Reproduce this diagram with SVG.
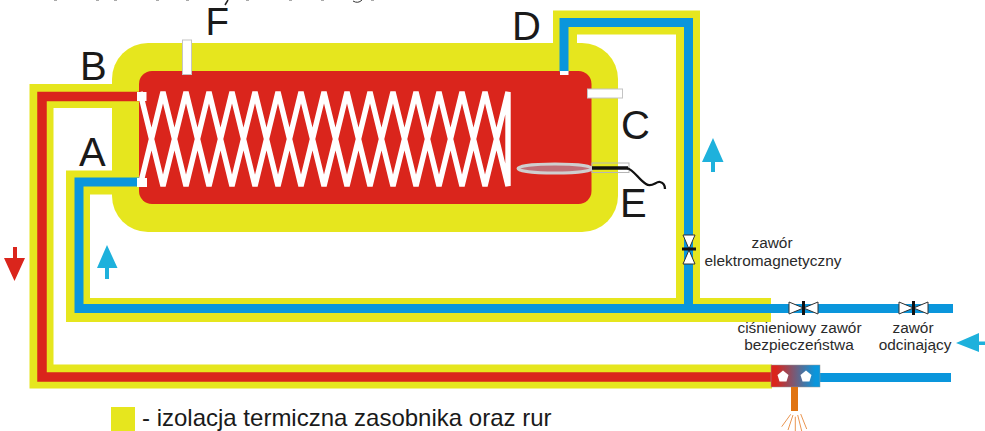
<svg xmlns="http://www.w3.org/2000/svg" width="985" height="431" viewBox="0 0 985 431">
<style>
.big{font:40px "Liberation Sans",Arial,sans-serif;fill:#1a1a1a}
.sm{font:15.400px "Liberation Sans",Arial,sans-serif;fill:#2a2a2a;text-anchor:middle}
.ins{fill:none;stroke:#e6e61e;stroke-width:24;stroke-linejoin:miter}
.cold{fill:none;stroke:#0a96dc;stroke-width:9;stroke-linejoin:miter}
.hot{fill:none;stroke:#da251c;stroke-width:9.500;stroke-linejoin:miter}
.coil{fill:none;stroke:#fff;stroke-width:5.400;stroke-linejoin:bevel}
.fit{fill:#fff;stroke:#c4c4c4;stroke-width:1}
.vlv{fill:#fff;stroke:#333;stroke-width:1}
.bar{fill:#111}
.ray{stroke:#ea9550;stroke-width:1;fill:none}
.arr{fill:#1eb1dc}
</style>
<defs>
<linearGradient id="mix" x1="0" x2="1" y1="0" y2="0"><stop offset="0.1" stop-color="#da251c"/><stop offset="0.9" stop-color="#0a96dc"/></linearGradient>
</defs>
<g id="cut-off-title" fill="#aaa"><path d="M54 0h3v1h-3zM96 0h3v1h-3zM114 0h3v1h-3zM156 0h3v1h-3zM186 0h3v1h-3zM246 0h3v1h-3zM289 0h3v1h-3zM321 0h3v1h-3zM371 0h3v1h-3z"/><path d="M353 1q5 3 9-1" fill="none" stroke="#333" stroke-width="1"/><path d="M225 5l3-5" fill="none" stroke="#222" stroke-width="1.500"/></g>
<g id="connectors">
<path class="ins" d="M141 96H41.500V376.500H772"/>
<path class="ins" d="M141 182.500H78V310H771"/>
<path class="ins" d="M565 50V22.500H688V310"/>
</g>
<g id="tank">
<rect x="112" y="43" width="506" height="189" rx="36" fill="#e6e61e"/>
<rect x="139" y="71" width="452.500" height="133" rx="13" fill="#da251c"/>
</g>
<g id="pipes">
<path class="hot" d="M139 96.500H42V377H772"/>
<path class="cold" d="M139 182H79V308.500H953"/>
<path class="cold" d="M564 72V22.500H688.500V308"/>
<path class="cold" d="M820 377.500H951"/>
</g>
<g id="coil">
<path class="coil" d="M140 92L163 186L186 92L209 186L232 92L255 186L278 92L301 186L324 92L347 186L370 92L393 186L416 92L439 186L462 92L485 186L508 92V186L485 92L462 186L439 92L416 186L393 92L370 186L347 92L324 186L301 92L278 186L255 92L232 186L209 92L186 186L163 92L140 186"/>
<rect x="137" y="92" width="9.500" height="9" fill="#fff"/>
<rect x="137" y="178" width="10" height="9" fill="#fff"/>
<rect x="560" y="71" width="8.500" height="4" fill="#fff"/>
</g>
<g id="node-F"><rect class="fit" x="182.500" y="40" width="9" height="34.500"/><text class="big" x="205.500" y="35" style="font-size:38.500px">F</text></g>
<g id="node-B"><text class="big" x="80" y="80">B</text></g>
<g id="node-A"><text class="big" x="79" y="166">A</text></g>
<g id="node-D"><text class="big" x="512" y="40">D</text></g>
<g id="node-C"><rect class="fit" x="587.500" y="89" width="35" height="9"/><text class="big" x="621" y="139">C</text></g>
<g id="node-E">
<rect x="592" y="163" width="37" height="9.500" fill="none" stroke="#b5b5b5" stroke-width="1"/>
<ellipse cx="555" cy="168.500" rx="37" ry="4.500" fill="#c07078" stroke="#cfcfcf" stroke-width="3"/>
<path d="M592 168H628" fill="none" stroke="#111" stroke-width="3.500"/>
<path d="M627 168C634 170 639 180 646 184C652 188 656 181 660 182C664 183 665 186 665 189" fill="none" stroke="#111" stroke-width="2.300"/>
<text class="big" x="620" y="217">E</text>
</g>
<g id="valve-electromagnetic">
<path class="vlv" d="M683 235H695L689 249Z"/><path class="vlv" d="M689 250L695 264H683Z"/>
<rect class="bar" x="682" y="247.500" width="14" height="3"/>
<text class="sm" x="772" y="248">zawór</text><text class="sm" x="773" y="266">elektromagnetyczny</text>
</g>
<g id="valve-safety">
<path class="vlv" d="M789 302L803.500 308L789 314Z"/><path class="vlv" d="M818 302L803.500 308L818 314Z"/>
<rect class="bar" x="802" y="301" width="3" height="14"/>
<text class="sm" x="799.500" y="333">ciśnieniowy zawór</text><text class="sm" x="799" y="350">bezpieczeństwa</text>
</g>
<g id="valve-shutoff">
<path class="vlv" d="M899 302L913.500 308L899 314Z"/><path class="vlv" d="M928 302L913.500 308L928 314Z"/>
<rect class="bar" x="912" y="301" width="3" height="14"/>
<text class="sm" x="913" y="333">zawór</text><text class="sm" x="915" y="350">odcinający</text>
</g>
<g id="mixer">
<rect x="771" y="365" width="49" height="22" fill="url(#mix)" stroke="#999" stroke-width="0.500"/>
<path fill="#fff" d="M783 370.500L788.500 375L786.500 381.500H779.500L777.500 375Z"/>
<path fill="#fff" d="M806 370.500L811.500 375L809.500 381.500H802.500L800.500 375Z"/>
<rect x="791" y="387" width="7" height="24" fill="#e07412"/>
<path class="ray" d="M790.700 414.300L781.700 426.700M793 415L788 430M795.300 416.700V431M797.700 415L801.700 431M800.700 414L806.700 429"/>
</g>
<g id="arrows">
<path fill="#da251c" d="M13 247H17V258H25L14.500 281L4 258H13Z"/>
<path class="arr" d="M107 245L117.500 268H109V279H105V268H97Z"/>
<path class="arr" d="M713 138L723.500 162H715V172H711V162H702Z"/>
<path class="arr" d="M956 343L979 333V341.500H985V345H979V352Z"/>
</g>
<g id="legend">
<rect x="111" y="407" width="24" height="24" fill="#e6e61e"/>
<text x="142" y="426" style="font:24px 'Liberation Sans',Arial,sans-serif;fill:#1a1a1a">- izolacja termiczna zasobnika oraz rur</text>
</g>
</svg>
